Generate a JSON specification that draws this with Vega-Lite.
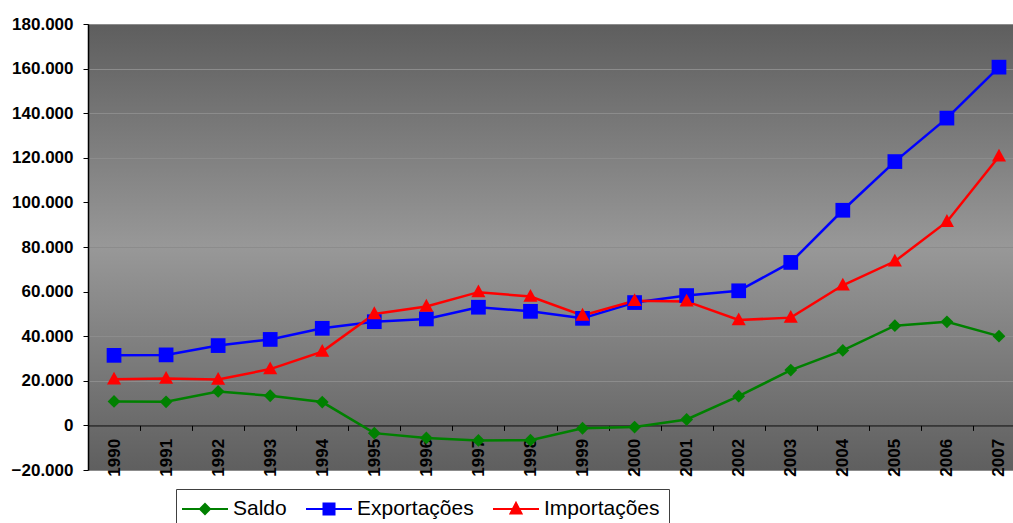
{
  "$schema": "https://vega.github.io/schema/vega-lite/v6.json",
  "width": 937,
  "height": 446,
  "autosize": {"type": "none"},
  "padding": {"left": 88, "top": 24, "right": 0, "bottom": 53},
  "background": "white",
  "view": {
    "stroke": null,
    "fill": {
      "gradient": "linear", "x1": 0, "y1": 0, "x2": 0, "y2": 1,
      "stops": [
        {"offset": 0, "color": "#5e5e5e"},
        {"offset": 0.5, "color": "#989898"},
        {"offset": 1, "color": "#5f5f5f"}
      ]
    }
  },
  "config": {"font": "Liberation Sans"},
  "data": {
    "values": [
      {"ano": "1990", "serie": "Saldo", "valor": 10753},
      {"ano": "1991", "serie": "Saldo", "valor": 10580},
      {"ano": "1992", "serie": "Saldo", "valor": 15239},
      {"ano": "1993", "serie": "Saldo", "valor": 13299},
      {"ano": "1994", "serie": "Saldo", "valor": 10466},
      {"ano": "1995", "serie": "Saldo", "valor": -3466},
      {"ano": "1996", "serie": "Saldo", "valor": -5599},
      {"ano": "1997", "serie": "Saldo", "valor": -6753},
      {"ano": "1998", "serie": "Saldo", "valor": -6623},
      {"ano": "1999", "serie": "Saldo", "valor": -1289},
      {"ano": "2000", "serie": "Saldo", "valor": -732},
      {"ano": "2001", "serie": "Saldo", "valor": 2650},
      {"ano": "2002", "serie": "Saldo", "valor": 13121},
      {"ano": "2003", "serie": "Saldo", "valor": 24794},
      {"ano": "2004", "serie": "Saldo", "valor": 33641},
      {"ano": "2005", "serie": "Saldo", "valor": 44703},
      {"ano": "2006", "serie": "Saldo", "valor": 46457},
      {"ano": "2007", "serie": "Saldo", "valor": 40032},
      {"ano": "1990", "serie": "Exportações", "valor": 31414},
      {"ano": "1991", "serie": "Exportações", "valor": 31620},
      {"ano": "1992", "serie": "Exportações", "valor": 35793},
      {"ano": "1993", "serie": "Exportações", "valor": 38555},
      {"ano": "1994", "serie": "Exportações", "valor": 43545},
      {"ano": "1995", "serie": "Exportações", "valor": 46506},
      {"ano": "1996", "serie": "Exportações", "valor": 47747},
      {"ano": "1997", "serie": "Exportações", "valor": 52994},
      {"ano": "1998", "serie": "Exportações", "valor": 51140},
      {"ano": "1999", "serie": "Exportações", "valor": 48011},
      {"ano": "2000", "serie": "Exportações", "valor": 55086},
      {"ano": "2001", "serie": "Exportações", "valor": 58223},
      {"ano": "2002", "serie": "Exportações", "valor": 60362},
      {"ano": "2003", "serie": "Exportações", "valor": 73084},
      {"ano": "2004", "serie": "Exportações", "valor": 96475},
      {"ano": "2005", "serie": "Exportações", "valor": 118308},
      {"ano": "2006", "serie": "Exportações", "valor": 137807},
      {"ano": "2007", "serie": "Exportações", "valor": 160649},
      {"ano": "1990", "serie": "Importações", "valor": 20661},
      {"ano": "1991", "serie": "Importações", "valor": 21040},
      {"ano": "1992", "serie": "Importações", "valor": 20554},
      {"ano": "1993", "serie": "Importações", "valor": 25256},
      {"ano": "1994", "serie": "Importações", "valor": 33079},
      {"ano": "1995", "serie": "Importações", "valor": 49972},
      {"ano": "1996", "serie": "Importações", "valor": 53346},
      {"ano": "1997", "serie": "Importações", "valor": 59747},
      {"ano": "1998", "serie": "Importações", "valor": 57763},
      {"ano": "1999", "serie": "Importações", "valor": 49302},
      {"ano": "2000", "serie": "Importações", "valor": 55851},
      {"ano": "2001", "serie": "Importações", "valor": 55602},
      {"ano": "2002", "serie": "Importações", "valor": 47243},
      {"ano": "2003", "serie": "Importações", "valor": 48326},
      {"ano": "2004", "serie": "Importações", "valor": 62836},
      {"ano": "2005", "serie": "Importações", "valor": 73600},
      {"ano": "2006", "serie": "Importações", "valor": 91351},
      {"ano": "2007", "serie": "Importações", "valor": 120617}
    ]
  },
  "layer": [
    {
      "mark": {"type": "line", "strokeWidth": 2.5},
      "encoding": {
        "x": {
          "field": "ano", "type": "ordinal", "bandPosition": 0.5,
          "scale": {"type": "band", "paddingInner": 0, "paddingOuter": 0},
          "axis": {
            "title": null, "offset": -44.6, "tickBand": "extent", "labelAngle": 270,
            "labelFont": "Liberation Sans", "labelFontSize": 17, "labelFontWeight": "bold",
            "labelColor": "black", "tickSize": 5, "tickColor": "black", "tickWidth": 1,
            "domainColor": "black", "domainWidth": 1, "labelPadding": 8, "grid": false,
            "labelOverlap": false
          }
        },
        "y": {
          "field": "valor", "type": "quantitative",
          "scale": {"domain": [-20000, 180000], "nice": false, "zero": false},
          "axis": {
            "title": null,
            "values": [-20000, 0, 20000, 40000, 60000, 80000, 100000, 120000, 140000, 160000, 180000],
            "labelExpr": "replace(format(datum.value, ','), ',', '.')",
            "labelFont": "Liberation Sans", "labelFontSize": 17, "labelFontWeight": "bold",
            "labelColor": "black", "tickSize": 5, "tickColor": "black", "domainColor": "black",
            "domainWidth": 1.5, "labelPadding": 10, "grid": true, "gridColor": "#8c8c8c",
            "gridWidth": 1, "labelFlush": false, "labelOverlap": false
          }
        },
        "color": {
          "field": "serie", "type": "nominal",
          "scale": {"domain": ["Saldo", "Exportações", "Importações"], "range": ["#008000", "#0000ff", "#ff0000"]},
          "legend": {
            "orient": "none", "legendX": 88, "legendY": 465, "direction": "horizontal",
            "title": null, "labelFont": "Liberation Sans", "labelFontSize": 21, "labelColor": "black",
            "symbolSize": 400, "symbolOffset": 9, "labelOffset": 17, "columnPadding": 15, "padding": 9,
            "strokeColor": "#404040", "fillColor": "white", "symbolStrokeWidth": 2,
            "encode": {
              "symbols": {
                "update": {
                  "shape": {"signal": "datum.value === 'Saldo' ? 'M-2.3,0H2.3M0,-0.5L0.5,0L0,0.5L-0.5,0Z' : (datum.value === 'Importações' ? 'M-2.3,0H2.3M0,-0.6L0.55,0.45L-0.55,0.45Z' : 'M-2.3,0H2.3M-0.55,-0.55H0.55V0.55H-0.55Z')"},
                  "fill": {"scale": "color", "field": "value"},
                  "stroke": {"scale": "color", "field": "value"},
                  "strokeWidth": {"value": 2},
                  "size": {"value": 400},
                  "opacity": {"value": 1}
                }
              }
            }
          }
        }
      }
    },
    {
      "transform": [{"filter": "datum.serie === 'Saldo'"}],
      "mark": {"type": "point", "filled": true, "opacity": 1, "size": 256, "strokeWidth": 0, "color": "#008000", "shape": "M0,-0.8L0.8,0L0,0.8L-0.8,0Z"},
      "encoding": {
        "x": {"field": "ano", "type": "ordinal", "bandPosition": 0.5},
        "y": {"field": "valor", "type": "quantitative"}
      }
    },
    {
      "transform": [{"filter": "datum.serie === 'Exportações'"}],
      "mark": {"type": "point", "filled": true, "opacity": 1, "size": 256, "strokeWidth": 0, "color": "#0000ff", "shape": "M-0.92,-0.92H0.92V0.92H-0.92Z"},
      "encoding": {
        "x": {"field": "ano", "type": "ordinal", "bandPosition": 0.5},
        "y": {"field": "valor", "type": "quantitative"}
      }
    },
    {
      "transform": [{"filter": "datum.serie === 'Importações'"}],
      "mark": {"type": "point", "filled": true, "opacity": 1, "size": 256, "strokeWidth": 0, "color": "#ff0000", "shape": "M0,-0.95L0.88,0.65L-0.88,0.65Z"},
      "encoding": {
        "x": {"field": "ano", "type": "ordinal", "bandPosition": 0.5},
        "y": {"field": "valor", "type": "quantitative"}
      }
    }
  ]
}
